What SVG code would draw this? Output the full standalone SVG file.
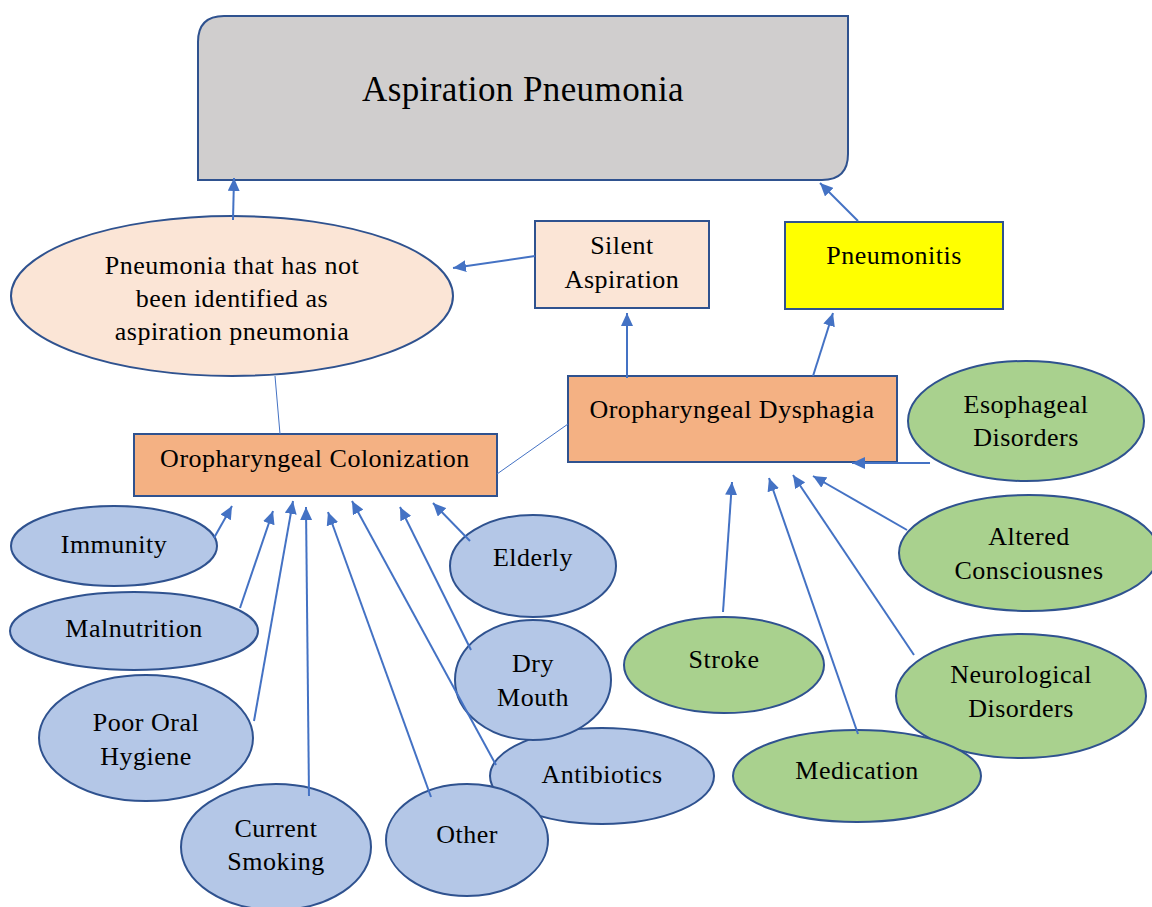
<svg xmlns="http://www.w3.org/2000/svg" width="1152" height="907" viewBox="0 0 1152 907">
<defs>
<marker id="ah" markerUnits="userSpaceOnUse" markerWidth="14" markerHeight="12" refX="13" refY="6" orient="auto">
<path d="M0,0 L13,6 L0,12 z" fill="#4472c4"/>
</marker>
<style>
.n{stroke:#2f528f;stroke-width:2}
.blue{fill:#b4c7e7}
.green{fill:#a9d18e}
.peach{fill:#fbe5d6}
.orange{fill:#f4b183}
text{font-family:"Liberation Serif","Times New Roman",serif;font-size:26px;letter-spacing:0.5px;fill:#000;text-anchor:middle}
.c line{stroke:#4472c4;stroke-width:2}
.c line.a{marker-end:url(#ah)}
.c line.t{stroke-width:1}
</style>
</defs>
<rect width="1152" height="907" fill="#fff"/>
<g id="aspiration-pneumonia">
<path class="n" fill="#d0cece" d="M224,16 L848,16 L848,154 Q848,180 822,180 L198,180 L198,42 Q198,16 224,16 z"/>
<text x="523" y="101" style="font-size:35px;letter-spacing:0.4px">Aspiration Pneumonia</text>
</g>
<g id="unidentified-pneumonia">
<ellipse class="n peach" cx="232" cy="296" rx="221" ry="80"/>
<text x="232" y="274">Pneumonia that has not</text>
<text x="232" y="307">been identified as</text>
<text x="232" y="340">aspiration pneumonia</text>
</g>
<g id="silent-aspiration">
<rect class="n peach" x="535" y="221" width="174" height="87"/>
<text x="622" y="254">Silent</text>
<text x="622" y="288">Aspiration</text>
</g>
<g id="pneumonitis">
<rect class="n" fill="#ffff00" x="785" y="222" width="218" height="87"/>
<text x="894" y="264">Pneumonitis</text>
</g>
<g id="oropharyngeal-dysphagia">
<rect class="n orange" x="568" y="376" width="329" height="86"/>
<text x="732" y="418">Oropharyngeal Dysphagia</text>
</g>
<g id="oropharyngeal-colonization">
<rect class="n orange" x="134" y="434" width="363" height="62"/>
<text x="315" y="467">Oropharyngeal Colonization</text>
</g>
<g id="esophageal-disorders">
<ellipse class="n green" cx="1026" cy="421" rx="118" ry="60"/>
<text x="1026" y="413">Esophageal</text>
<text x="1026" y="446">Disorders</text>
</g>
<g id="altered-consciousness">
<ellipse class="n green" cx="1029" cy="553" rx="130" ry="58"/>
<text x="1029" y="545">Altered</text>
<text x="1029" y="579">Consciousnes</text>
</g>
<g id="neurological-disorders">
<ellipse class="n green" cx="1021" cy="696" rx="125" ry="62"/>
<text x="1021" y="683">Neurological</text>
<text x="1021" y="717">Disorders</text>
</g>
<g id="stroke">
<ellipse class="n green" cx="724" cy="665" rx="100" ry="48"/>
<text x="724" y="668">Stroke</text>
</g>
<g id="medication">
<ellipse class="n green" cx="857" cy="776" rx="124" ry="46"/>
<text x="857" y="779">Medication</text>
</g>
<g id="immunity">
<ellipse class="n blue" cx="114" cy="546" rx="103" ry="40"/>
<text x="114" y="553">Immunity</text>
</g>
<g id="malnutrition">
<ellipse class="n blue" cx="134" cy="631" rx="124" ry="39"/>
<text x="134" y="637">Malnutrition</text>
</g>
<g id="poor-oral-hygiene">
<ellipse class="n blue" cx="146" cy="738" rx="107" ry="63"/>
<text x="146" y="731">Poor Oral</text>
<text x="146" y="765">Hygiene</text>
</g>
<g id="current-smoking">
<ellipse class="n blue" cx="276" cy="847" rx="95" ry="63"/>
<text x="276" y="837">Current</text>
<text x="276" y="870">Smoking</text>
</g>
<g id="antibiotics">
<ellipse class="n blue" cx="602" cy="776" rx="112" ry="48"/>
<text x="602" y="783">Antibiotics</text>
</g>
<g id="other">
<ellipse class="n blue" cx="467" cy="840" rx="81" ry="56"/>
<text x="467" y="843">Other</text>
</g>
<g id="dry-mouth">
<ellipse class="n blue" cx="533" cy="680" rx="78" ry="60"/>
<text x="533" y="672">Dry</text>
<text x="533" y="706">Mouth</text>
</g>
<g id="elderly">
<ellipse class="n blue" cx="533" cy="566" rx="83" ry="51"/>
<text x="533" y="566">Elderly</text>
</g>
<g id="connectors" class="c">
<line class="a" x1="233" y1="220" x2="234" y2="178"/>
<line class="a" x1="535" y1="256" x2="453" y2="268"/>
<line class="a" x1="858" y1="221" x2="820" y2="183"/>
<line class="a" x1="627" y1="378" x2="627" y2="313"/>
<line class="a" x1="813" y1="376" x2="833" y2="313"/>
<line class="a" x1="930" y1="463" x2="852" y2="463"/>
<line class="a" x1="907" y1="530" x2="813" y2="476"/>
<line class="a" x1="914" y1="655" x2="793" y2="475"/>
<line class="a" x1="858" y1="734" x2="769" y2="478"/>
<line class="a" x1="723" y1="612" x2="732" y2="482"/>
<line class="t" x1="275" y1="376" x2="280" y2="434"/>
<line class="t" x1="497" y1="474" x2="568" y2="424"/>
<line class="a" x1="214" y1="538" x2="232" y2="506"/>
<line class="a" x1="240" y1="608" x2="273" y2="511"/>
<line class="a" x1="254" y1="721" x2="293" y2="501"/>
<line class="a" x1="309" y1="796" x2="306" y2="507"/>
<line class="a" x1="431" y1="797" x2="328" y2="512"/>
<line class="a" x1="496" y1="765" x2="352" y2="501"/>
<line class="a" x1="471" y1="650" x2="400" y2="507"/>
<line class="a" x1="470" y1="541" x2="433" y2="503"/>
</g>
</svg>
